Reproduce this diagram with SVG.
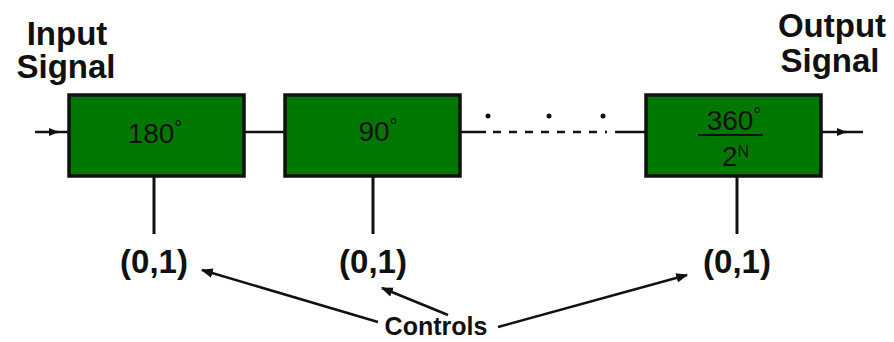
<svg xmlns="http://www.w3.org/2000/svg" width="894" height="342" viewBox="0 0 894 342">
<defs>
<style>
.box{fill:#007800;stroke:#111;stroke-width:3.5}
.ln{stroke:#111;stroke-width:3;fill:none}
.thin{stroke:#111;stroke-width:2.5;fill:none}
.lbl{font-family:"Liberation Sans",Arial,sans-serif;font-weight:bold;fill:#111;text-anchor:middle}
.num{font-family:"Liberation Sans",Arial,sans-serif;fill:#111;font-size:28px;text-anchor:middle}
</style>
<marker id="ah" viewBox="0 0 10 10" refX="9" refY="5" markerWidth="10" markerHeight="10" markerUnits="userSpaceOnUse" orient="auto">
<path d="M0,1 L10,5 L0,9 z" fill="#111"/>
</marker>
<marker id="ah2" viewBox="0 0 10 10" refX="9" refY="5" markerWidth="12" markerHeight="12" markerUnits="userSpaceOnUse" orient="auto">
<path d="M0,1 L10,5 L0,9 z" fill="#111"/>
</marker>
</defs>
<rect width="894" height="342" fill="#fff"/>
<g id="connectors">
<line class="thin" x1="35" y1="132" x2="58" y2="132" marker-end="url(#ah)"/>
<line class="thin" x1="56" y1="132" x2="69" y2="132"/>
<line class="thin" x1="244" y1="132" x2="284" y2="132"/>
<line class="thin" x1="460" y1="132" x2="486" y2="132"/>
<line class="thin" x1="493" y1="132" x2="607" y2="132" stroke-dasharray="8,8"/>
<line class="thin" x1="615" y1="132" x2="646" y2="132"/>
<line class="thin" x1="821" y1="132" x2="846" y2="132" marker-end="url(#ah)"/>
<line class="thin" x1="844" y1="132" x2="863" y2="132"/>
<circle cx="488" cy="116" r="2.5" fill="#111"/>
<circle cx="549" cy="116" r="2.5" fill="#111"/>
<circle cx="603" cy="116" r="2.5" fill="#111"/>
<line class="ln" x1="154" y1="176" x2="154" y2="234"/>
<line class="ln" x1="373" y1="176" x2="373" y2="234"/>
<line class="ln" x1="737" y1="176" x2="737" y2="234"/>
<line class="thin" x1="378" y1="322" x2="202" y2="270" marker-end="url(#ah2)"/>
<line class="thin" x1="448" y1="315" x2="382" y2="288" marker-end="url(#ah2)"/>
<line class="thin" x1="498" y1="327" x2="687" y2="275" marker-end="url(#ah2)"/>
</g>
<g id="input-label">
<text class="lbl" x="67" y="45" font-size="33">Input</text>
<text class="lbl" x="66" y="78" font-size="33">Signal</text>
</g>
<g id="output-label">
<text class="lbl" x="832" y="37" font-size="33">Output</text>
<text class="lbl" x="830" y="72" font-size="33">Signal</text>
</g>
<g id="stage-180">
<rect class="box" x="69" y="95" width="175" height="81"/>
<text class="num" x="155" y="143">180<tspan font-size="20" dy="-8">°</tspan></text>
<text class="lbl" x="154" y="273" font-size="33">(0,1)</text>
</g>
<g id="stage-90">
<rect class="box" x="285" y="95" width="175" height="81"/>
<text class="num" x="378" y="141">90<tspan font-size="20" dy="-8">°</tspan></text>
<text class="lbl" x="373" y="273" font-size="33">(0,1)</text>
</g>
<g id="stage-n">
<rect class="box" x="646" y="95" width="175" height="81"/>
<text class="num" x="734" y="130">360<tspan font-size="20" dy="-8">°</tspan></text>
<line x1="698" y1="135" x2="763" y2="135" stroke="#111" stroke-width="2"/>
<text class="num" x="722" y="166" style="text-anchor:start">2<tspan font-size="16" dy="-9">N</tspan></text>
<text class="lbl" x="737" y="273" font-size="33">(0,1)</text>
</g>
<g id="controls">
<text class="lbl" x="436" y="335" font-size="25">Controls</text>
</g>
</svg>
